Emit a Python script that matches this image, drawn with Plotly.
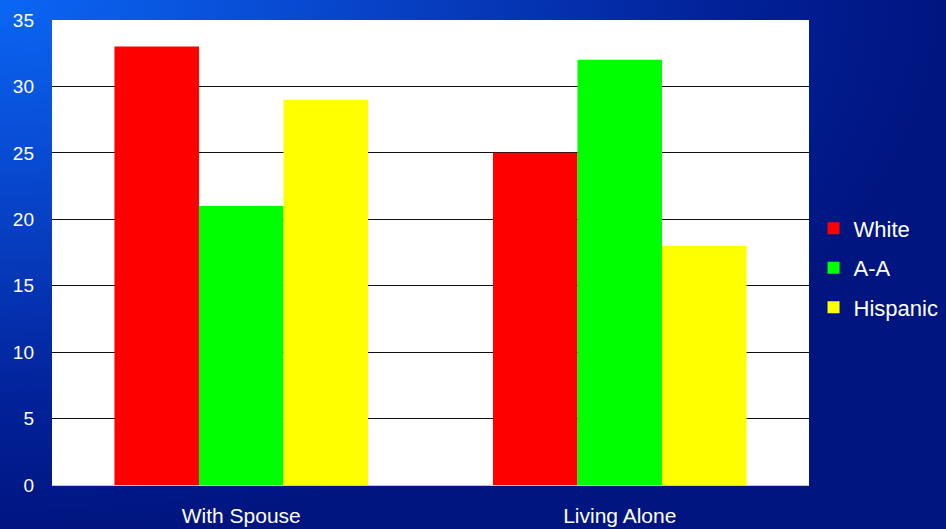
import base64
import plotly.graph_objects as go

categories = ["With Spouse", "Living Alone"]
white = [33, 25]
aa = [21, 32]
hispanic = [29, 18]
series_names = ["White", "A-A", "Hispanic"]
series_colors = ["#ff0000", "#00ff00", "#ffff00"]
y_ticks = [0, 5, 10, 15, 20, 25, 30, 35]

W, H = 946, 529
ML, MR, MT, MB = 52, 137, 20, 44
PW, PH = W - ML - MR, H - MT - MB

svg = (
    f'<svg xmlns="http://www.w3.org/2000/svg" width="{W}" height="{H}" preserveAspectRatio="none">'
    '<defs><radialGradient id="g" cx="0" cy="0" r="1">'
    '<stop offset="0" stop-color="#0b66f5"/>'
    '<stop offset="0.4" stop-color="#0742c6"/>'
    '<stop offset="0.75" stop-color="#02229a"/>'
    '<stop offset="1" stop-color="#001580"/>'
    '</radialGradient></defs>'
    f'<rect x="0" y="0" width="{W}" height="{H}" fill="url(#g)"/></svg>'
)
src = "data:image/svg+xml;base64," + base64.b64encode(svg.encode()).decode()

fig = go.Figure()
for name, vals, col in zip(series_names, [white, aa, hispanic], series_colors):
    fig.add_trace(go.Bar(name=name, x=categories, y=vals, legendgroup=name,
                         marker=dict(color=col, line=dict(width=0))))

fig.update_layout(
    width=W, height=H,
    margin=dict(l=ML, r=MR, t=MT, b=MB, pad=0, autoexpand=False),
    barmode="group", bargap=0.33, bargroupgap=0,
    paper_bgcolor="#001580", plot_bgcolor="white",
    font=dict(family="Liberation Sans, Arial, sans-serif", color="white", size=18),
    images=[dict(source=src, xref="paper", yref="paper",
                 x=-ML / PW, y=1 + MT / PH, sizex=W / PW, sizey=H / PH,
                 sizing="stretch", xanchor="left", yanchor="top", layer="below")],
    shapes=[dict(type="rect", xref="paper", yref="paper", x0=0, x1=1, y0=0, y1=1,
                 fillcolor="white", line=dict(width=0), layer="below")],
    legend=dict(x=1.006, y=0.467, xanchor="left", yanchor="middle",
                font=dict(size=22, color="white"), bgcolor="rgba(0,0,0,0)",
                tracegroupgap=8, itemsizing="constant", itemwidth=30),
    xaxis=dict(showgrid=False, showline=True, linecolor="#c8c8c8", linewidth=1,
               tickfont=dict(size=21), ticks="", ticklabelstandoff=12, automargin=False),
    yaxis=dict(range=[0, 35], tickvals=y_ticks, showgrid=True, gridcolor="#101010",
               gridwidth=1, zeroline=False, showline=False, ticks="",
               tickfont=dict(size=19), ticklabelstandoff=17, automargin=False),
)
fig.write_html(
    "out.html",
    config={"displayModeBar": False},
    post_script="document.body.style.margin='0';document.body.style.overflow='hidden';",
)
